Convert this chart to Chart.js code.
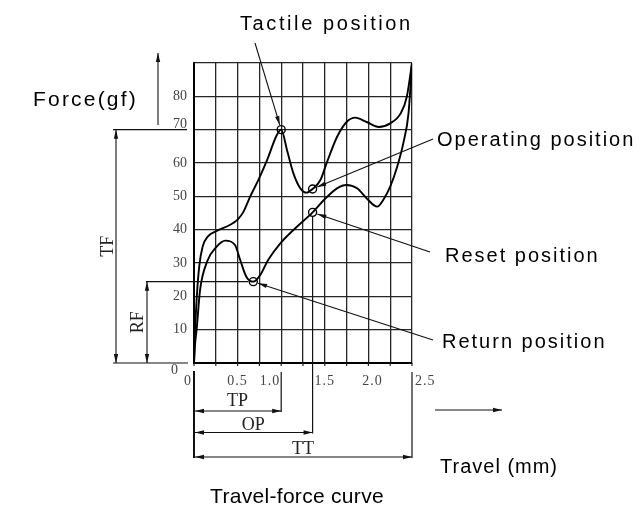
<!DOCTYPE html>
<html>
<head>
<meta charset="utf-8">
<script src="https://cdn.jsdelivr.net/npm/chart.js@4.4.0/dist/chart.umd.min.js"></script>
<style>
  html, body { margin: 0; padding: 0; background: #fff; }
  canvas { display: block; }
</style>
</head>
<body>
<canvas id="chart" width="643" height="508"></canvas>
<script>
// press stroke (upper curve)
const pressTravel = [0, 0.01, 0.03, 0.06, 0.1, 0.16, 0.26, 0.41, 0.5, 0.57, 0.64, 0.74, 0.84, 0.95, 1.0,
  1.07, 1.14, 1.22, 1.29, 1.36, 1.45, 1.52, 1.64, 1.75, 1.85, 1.98, 2.12, 2.25, 2.37, 2.44, 2.5];
const pressForce = [0, 8, 19, 29, 35, 38, 39.6, 41.4, 43, 45.5, 49.7, 55, 61, 68.4, 70,
  63.5, 56.9, 52.4, 51.1, 52.2, 54.9, 59.9, 67.8, 72.3, 73.6, 72.3, 70.8, 71.9, 74.9, 79.8, 90];

// return stroke (lower curve)
const returnTravel = [0, 0.01, 0.03, 0.07, 0.15, 0.26, 0.36, 0.47, 0.53, 0.6, 0.68, 0.76, 0.85, 0.99,
  1.14, 1.36, 1.49, 1.64, 1.75, 1.87, 1.98, 2.1, 2.17, 2.25, 2.33, 2.4, 2.46, 2.5];
const returnForce = [0, 5, 10, 22, 30.4, 34.9, 36.7, 35.4, 30.9, 25.9, 24.4, 26.4, 30.9, 35.9,
  39.9, 45.2, 48.9, 52.4, 53.4, 52.4, 49.4, 46.9, 48.9, 52.9, 58.9, 65.9, 74.9, 90];

// marked positions
const keyNames  = ['Tactile position', 'Operating position', 'Reset position', 'Return position'];
const keyTravel = [1.0, 1.36, 1.36, 0.68];
const keyForce  = [70, 52.2, 45.2, 24.4];

// axis labels
const forceTicks  = [0, 10, 20, 30, 40, 50, 60, 70, 80];
const travelTicks = [0, 0.5, 1.0, 1.5, 2.0, 2.5];
const travelTickText = ['0', '0.5', '1.0', '1.5', '2.0', '2.5'];

const SANS  = '"Liberation Sans", Arial, sans-serif';
const SERIF = '"Liberation Serif", "Times New Roman", serif';
const R = 4; // marker radius

function text(ctx, s, x, y, font, o = {}) {
  ctx.save();
  ctx.font = font;
  ctx.fillStyle = o.color || '#000';
  ctx.textAlign = o.align || 'left';
  ctx.textBaseline = o.base || 'alphabetic';
  ctx.letterSpacing = (o.ls || 0) + 'px';
  if (o.rot) {
    ctx.translate(x, y);
    ctx.rotate(o.rot);
    ctx.fillText(s, 0, 0);
  } else {
    ctx.fillText(s, x, y);
  }
  ctx.restore();
}

function line(ctx, x1, y1, x2, y2, w = 1, c = '#111') {
  ctx.save();
  ctx.strokeStyle = c;
  ctx.lineWidth = w;
  ctx.beginPath();
  ctx.moveTo(x1, y1);
  ctx.lineTo(x2, y2);
  ctx.stroke();
  ctx.restore();
}

// filled arrow head at (x2, y2), pointing away from (x1, y1)
function head(ctx, x1, y1, x2, y2, c = '#111') {
  const a = Math.atan2(y2 - y1, x2 - x1);
  const L = 9, W = 2.2;
  const bx = x2 - L * Math.cos(a), by = y2 - L * Math.sin(a);
  ctx.save();
  ctx.fillStyle = c;
  ctx.beginPath();
  ctx.moveTo(x2, y2);
  ctx.lineTo(bx + W * Math.sin(a), by - W * Math.cos(a));
  ctx.lineTo(bx - W * Math.sin(a), by + W * Math.cos(a));
  ctx.closePath();
  ctx.fill();
  ctx.restore();
}

function arrow(ctx, x1, y1, x2, y2, both = false) {
  line(ctx, x1, y1, x2, y2, 1.1);
  head(ctx, x1, y1, x2, y2);
  if (both) head(ctx, x2, y2, x1, y1);
}

// where each position label sits and where its leader starts
const labelLayout = [
  { x: 240, y: 30,  ls: 2.6, from: [255, 43] },
  { x: 437, y: 146, ls: 2,   from: [433, 139] },
  { x: 445, y: 262, ls: 2,   from: [430, 252] },
  { x: 442, y: 348, ls: 2,   from: [433, 340] },
];

const overlay = {
  id: 'overlay',
  afterDraw(chart) {
    const { ctx } = chart;
    const xs = chart.scales.x, ys = chart.scales.y;
    const X = v => xs.getPixelForValue(v);
    const Y = v => ys.getPixelForValue(v);
    const left = X(0), right = X(2.5), bottom = Y(0);

    // small ticks under the travel axis
    for (let v = 0; v <= 2.5001; v += 0.25) line(ctx, X(v), bottom, X(v), bottom + 3, 1.2, '#222');

    // force tick labels
    forceTicks.forEach(v => {
      if (v === 0) {
        text(ctx, '0', left - 16, bottom + 7, '14px ' + SERIF, { align: 'right', base: 'middle', color: '#444' });
        return;
      }
      const dy = v === keyForce[0] ? -5 : 0;
      text(ctx, String(v), left - 7, Y(v) + dy, '14px ' + SERIF, { align: 'right', base: 'middle', color: '#444' });
    });

    // travel tick labels, beside the dimension lines where there is one
    const tp = keyTravel[0], op = keyTravel[1], tt = 2.5;
    travelTicks.forEach((v, i) => {
      let align = 'center', x = X(v);
      if (v === 0) { align = 'right'; x -= 2; }
      else if (v === tp) { align = 'right'; x -= 1; }
      else if (v === tt) { align = 'left'; x += 3; }
      else if (v === 2.0) x += 4;
      text(ctx, travelTickText[i], x, bottom + 18, '14px ' + SERIF, { align, base: 'middle', color: '#444', ls: 1 });
    });

    // force axis arrow and title
    arrow(ctx, 158, 125, 158, 53);
    text(ctx, 'Force(gf)', 33, 106, '21px ' + SANS, { ls: 2.2 });

    // travel axis arrow and title
    arrow(ctx, 435, 410, 502, 410);
    text(ctx, 'Travel (mm)', 440, 473, '20px ' + SANS, { ls: 1 });
    text(ctx, 'Travel-force curve', 297, 503, '21px ' + SANS, { align: 'center', ls: 0.3 });

    // TF / RF dimensions on the left
    const tfY = Y(keyForce[0]), rfY = Y(keyForce[3]);
    line(ctx, 113, tfY, left - 7, tfY, 1.2);
    line(ctx, 113, bottom, left - 6, bottom, 1.2);
    arrow(ctx, 116, tfY, 116, bottom, true);
    text(ctx, 'TF', 108, (tfY + bottom) / 2, '18px ' + SERIF, { align: 'center', base: 'middle', rot: -Math.PI / 2, color: '#222' });
    line(ctx, 146, rfY, X(keyTravel[3]) - R - 1, rfY, 1.2);
    arrow(ctx, 147, rfY, 147, bottom, true);
    text(ctx, 'RF', 138, (rfY + bottom) / 2, '18px ' + SERIF, { align: 'center', base: 'middle', rot: -Math.PI / 2, color: '#222' });

    // TP / OP / TT dimensions below
    const tpY = 411, opY = 432.5, ttY = 457;
    line(ctx, left, bottom + 8, left, ttY + 1, 2, '#111');
    line(ctx, X(tp), bottom + 9, X(tp), tpY + 1, 1.2);
    line(ctx, X(op), Y(keyForce[2]) + R, X(op), opY + 1, 1.2);
    line(ctx, right, bottom + 9, right, ttY + 1, 1.2);
    arrow(ctx, left + 1, tpY, X(tp), tpY, true);
    arrow(ctx, left + 1, opY, X(op), opY, true);
    arrow(ctx, left + 1, ttY, right, ttY, true);
    text(ctx, 'TP', (left + X(tp)) / 2, tpY - 5, '18px ' + SERIF, { align: 'center', color: '#222' });
    text(ctx, 'OP', (left + X(op)) / 2, opY - 3, '18px ' + SERIF, { align: 'center', color: '#222' });
    text(ctx, 'TT', (left + right) / 2, ttY - 3, '18px ' + SERIF, { align: 'center', color: '#222' });

    // position labels with leaders to the markers
    keyNames.forEach((name, i) => {
      const L = labelLayout[i];
      text(ctx, name, L.x, L.y, '20px ' + SANS, { ls: L.ls });
      const cx = X(keyTravel[i]), cy = Y(keyForce[i]);
      const [sx, sy] = L.from;
      const d = Math.hypot(sx - cx, sy - cy);
      const ex = cx + (sx - cx) / d * (R + 1), ey = cy + (sy - cy) / d * (R + 1);
      arrow(ctx, sx, sy, ex, ey);
    });
  }
};

const gridStyle = { color: '#262626', lineWidth: 1.3, drawTicks: false };

new Chart(document.getElementById('chart'), {
  type: 'scatter',
  data: {
    datasets: [
      {
        label: 'Press',
        data: pressTravel.map((x, i) => ({ x, y: pressForce[i] })),
        showLine: true,
        borderColor: '#000',
        borderWidth: 1.9,
        pointRadius: 0,
        cubicInterpolationMode: 'monotone',
      },
      {
        label: 'Return',
        data: returnTravel.map((x, i) => ({ x, y: returnForce[i] })),
        showLine: true,
        borderColor: '#000',
        borderWidth: 1.9,
        pointRadius: 0,
        cubicInterpolationMode: 'monotone',
      },
      {
        label: 'Positions',
        data: keyTravel.map((x, i) => ({ x, y: keyForce[i] })),
        showLine: false,
        pointRadius: R,
        pointBorderWidth: 1.4,
        pointBorderColor: '#000',
        pointBackgroundColor: 'rgba(255,255,255,0)',
      },
    ]
  },
  options: {
    responsive: false,
    animation: false,
    layout: { padding: { left: 194, right: 231, top: 63, bottom: 145 } },
    plugins: { legend: { display: false }, tooltip: { enabled: false } },
    scales: {
      x: {
        type: 'linear', min: 0, max: 2.5,
        ticks: { stepSize: 0.25, display: false },
        grid: gridStyle,
        border: { color: '#000', width: 2 },
      },
      y: {
        type: 'linear', min: 0, max: 90,
        ticks: { stepSize: 10, display: false },
        grid: gridStyle,
        border: { color: '#000', width: 2 },
      },
    },
  },
  plugins: [overlay],
});
</script>
</body>
</html>
